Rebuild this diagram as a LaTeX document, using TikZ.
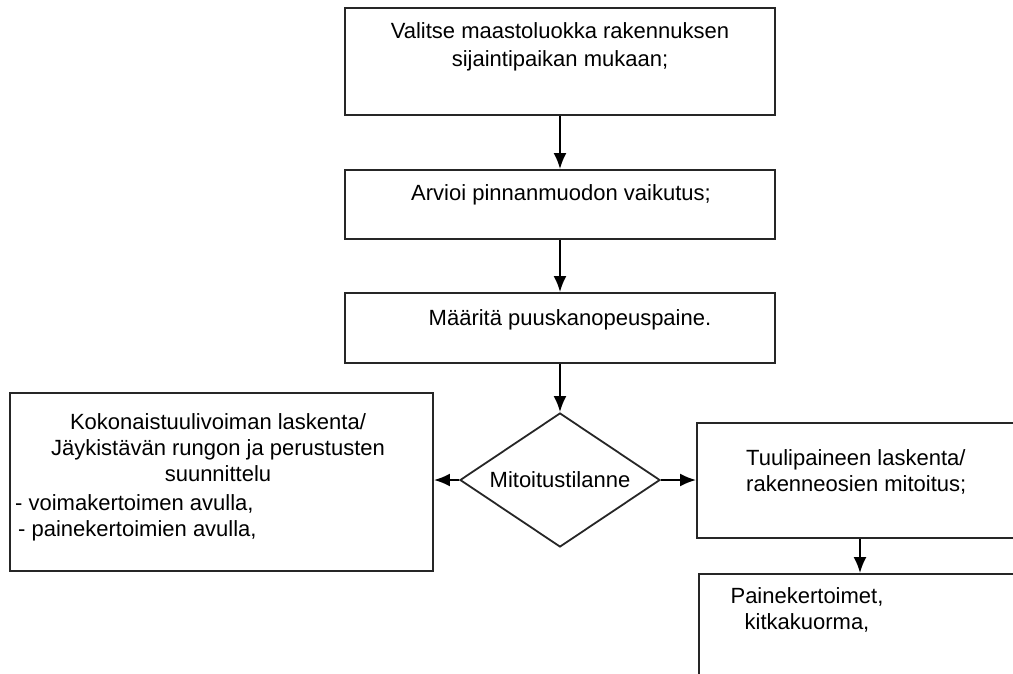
\documentclass[tikz,border=0pt]{standalone}
\usepackage{fontspec}
\setmainfont{Liberation Sans}
\usetikzlibrary{arrows.meta,shapes.geometric,positioning}
\tikzset{
  box/.style={draw=black!85, line width=1.8pt, rectangle, inner sep=0pt},
  flow/.style={draw=black, line width=2.2pt, -{Latex[length=16pt,width=13pt]}},
  txt/.style={inner sep=0pt, font=\fontsize{22}{26}\selectfont},
}

\begin{document}
\begin{tikzpicture}[x=1pt,y=-1pt]
    \useasboundingbox (0,0) rectangle (1013,673);
    \clip (0,0) rectangle (1013,673);
    % boxes
    \node[box, minimum width=430pt, minimum height=107pt] (maasto) at (560,61.5) {};
    \node[box, minimum width=430pt, minimum height=69pt] (pinta) at (560,204.5) {};
    \node[box, minimum width=430pt, minimum height=70pt] (paine) at (560,328) {};
    \node[box, txt, diamond, aspect=1.5, minimum width=200pt, minimum height=134pt] (tilanne) at (560,480) {Mitoitustilanne};
    \node[box, minimum width=423pt, minimum height=178pt] (koko) at (221.5,482) {};
    \node[box, minimum width=340pt, minimum height=115pt] (tuuli) at (867,480.5) {};
    \node[box, minimum width=340pt, minimum height=126pt] (kerroin) at (869,637) {};
    \coordinate (haara) at (860,0);
    % texts
    \node[txt, font=\fontsize{22}{28}\selectfont, anchor=north, align=center] (t1) at (560,22)
        {Valitse maastoluokka rakennuksen\\sijaintipaikan mukaan;};
    \node[txt, anchor=base] (t2) at (561,200) {Arvioi pinnanmuodon vaikutus;};
    \node[txt, anchor=base] (t3) at (570,325) {Määritä puuskanopeuspaine.};
    \node[txt, anchor=north, align=center] (t4) at (218,413)
        {Kokonaistuulivoiman laskenta/\\Jäykistävän rungon ja perustusten\\suunnittelu};
    \node[txt, anchor=north west, align=left] (t5) at (15,494)
        {- voimakertoimen avulla,\\\hspace{3pt}- painekertoimien avulla,};
    \node[txt, anchor=north west, align=left] (t6) at (746,449)
        {Tuulipaineen laskenta/\\rakenneosien mitoitus;};
    \node[txt, anchor=north, align=center] (t7) at (807,587)
        {Painekertoimet,\\kitkakuorma,};
    % arrows
    \draw[flow] (maasto) -- (pinta);
    \draw[flow] (pinta) -- (paine);
    \draw[flow] (paine) -- (tilanne);
    \draw[flow] (tilanne.west) -- (tilanne.west -| koko.east);
    \draw[flow] (tilanne.east) -- (tilanne.east -| tuuli.west);
    \draw[flow] (tuuli.south -| haara) -- (kerroin.north -| haara);
\end{tikzpicture}
\end{document}
